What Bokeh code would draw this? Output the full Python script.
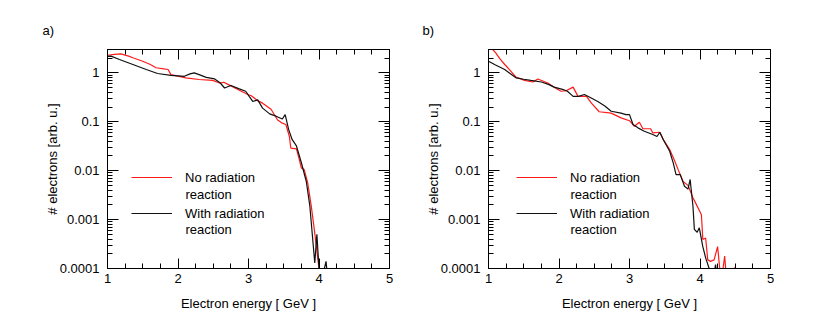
from bokeh.plotting import figure
from bokeh.models import (LinearAxis, LogAxis, FixedTicker, Range1d, Legend,
                          LegendItem, Label)
from bokeh.layouts import row
from bokeh.embed import file_html
from bokeh.resources import INLINE

# ---------------- data ----------------
# panel a) : no radiation reaction (red)
a_red_e = [1.0, 1.1, 1.19, 1.3, 1.36, 1.5, 1.6, 1.69, 1.8, 1.86, 1.9, 2.0, 2.11,
           2.3, 2.49, 2.59, 2.65, 2.73, 2.87, 2.99, 3.04, 3.13, 3.2, 3.32, 3.41,
           3.47, 3.53, 3.58, 3.6, 3.68, 3.72, 3.75, 3.79, 3.84, 3.89, 3.94, 4.0, 4.03]
a_red_v = [2.29, 2.38, 2.45, 2.2, 2.03, 1.73, 1.5, 1.27, 1.2, 1.17, 0.92, 0.86, 0.79,
           0.73, 0.70, 0.62, 0.64, 0.56, 0.44, 0.36, 0.34, 0.27, 0.24, 0.18, 0.11,
           0.095, 0.088, 0.05, 0.029, 0.028, 0.017, 0.0113, 0.0105, 0.0056, 0.0019,
           0.00053, 0.0001, 0.00005]
# panel a) : with radiation reaction (black)
a_blk_e = [1.0, 1.05, 1.17, 1.36, 1.55, 1.71, 1.9, 2.09, 2.17, 2.23, 2.3, 2.4, 2.52,
           2.6, 2.66, 2.75, 2.87, 2.96, 3.01, 3.06, 3.13, 3.2, 3.3, 3.39, 3.48, 3.52,
           3.57, 3.62, 3.68, 3.75, 3.82, 3.87, 3.94, 3.97, 4.0, 4.04, 4.1, 4.13]
a_blk_v = [2.18, 2.2, 1.87, 1.48, 1.17, 0.97, 0.89, 0.85, 0.95, 1.0, 0.92, 0.81, 0.75,
           0.62, 0.49, 0.55, 0.47, 0.42, 0.33, 0.26, 0.28, 0.19, 0.145, 0.13, 0.114,
           0.14, 0.069, 0.043, 0.032, 0.0145, 0.006, 0.0019, 0.00013, 0.0005, 0.0001,
           0.00006, 0.00014, 0.00005]
# panel b) : no radiation reaction (red)
b_red_e = [1.0, 1.06, 1.1, 1.16, 1.23, 1.3, 1.39, 1.51, 1.63, 1.7, 1.84, 1.96, 2.03,
           2.1, 2.2, 2.27, 2.39, 2.46, 2.57, 2.74, 2.88, 3.0, 3.07, 3.14, 3.19, 3.3,
           3.33, 3.43, 3.48, 3.57, 3.64, 3.69, 3.76, 3.83, 3.9, 3.93, 4.02, 4.04,
           4.08, 4.11, 4.15, 4.2, 4.25, 4.3, 4.35, 4.38, 4.45, 4.49, 4.52]
b_red_v = [3.8, 3.0, 2.6, 1.95, 1.48, 1.15, 0.82, 0.70, 0.65, 0.75, 0.62, 0.48, 0.42,
           0.43, 0.51, 0.33, 0.33, 0.24, 0.16, 0.15, 0.12, 0.105, 0.081, 0.098, 0.072,
           0.072, 0.059, 0.061, 0.043, 0.027, 0.016, 0.0105, 0.006, 0.005, 0.0028,
           0.0023, 0.00126, 0.00039, 0.00042, 0.00015, 0.00014, 0.00015, 0.00028,
           0.00005, 0.00018, 0.00005, 0.00005, 0.000105, 0.00005]
# panel b) : with radiation reaction (black)
b_blk_e = [1.0, 1.1, 1.23, 1.39, 1.5, 1.6, 1.75, 1.85, 1.93, 2.05, 2.12, 2.2, 2.28,
           2.36, 2.45, 2.55, 2.65, 2.74, 2.88, 2.95, 3.0, 3.05, 3.12, 3.21, 3.33, 3.39,
           3.43, 3.48, 3.57, 3.62, 3.66, 3.72, 3.78, 3.83, 3.86, 3.9, 3.92, 3.96, 3.99,
           4.04, 4.08, 4.13, 4.18, 4.22, 4.26]
b_blk_v = [1.73, 1.45, 1.17, 0.79, 0.74, 0.70, 0.65, 0.58, 0.51, 0.46, 0.42, 0.33, 0.33,
           0.36, 0.31, 0.26, 0.21, 0.164, 0.15, 0.14, 0.14, 0.088, 0.075, 0.064, 0.055,
           0.05, 0.061, 0.043, 0.025, 0.0144, 0.0083, 0.0083, 0.0048, 0.0042, 0.0066,
           0.0019, 0.00063, 0.00055, 0.00068, 0.00028, 0.000165, 0.0001, 0.00005,
           0.00012, 0.00005]

series_first_lines = ["No radiation", "With radiation"]
series_second_line = "reaction"
panel_tags = ["a)", "b)"]

x_major = [1, 2, 3, 4, 5]
x_minor = [1.25, 1.5, 1.75, 2.25, 2.5, 2.75, 3.25, 3.5, 3.75, 4.25, 4.5, 4.75]
y_major = [0.0001, 0.001, 0.01, 0.1, 1.0]
y_major_labels = ["0.0001", "0.001", "0.01", "0.1", "1"]
y_minor = [m * d for d in [0.0001, 0.001, 0.01, 0.1, 1.0] for m in range(2, 10)]

FONT = "Liberation Sans"
RED = "#ff1a1a"
BLACK = "#111111"
FRAME_W = 282
FRAME_H = 219


def style_axis(ax, major_in, show_labels):
    ax.major_tick_in = major_in
    ax.major_tick_out = 0
    ax.minor_tick_in = 5
    ax.minor_tick_out = 0
    ax.axis_line_color = "black"
    ax.major_tick_line_color = "black"
    ax.minor_tick_line_color = "black"
    ax.major_label_text_font = FONT
    ax.major_label_text_font_size = "13px"
    ax.major_label_text_color = "black" if show_labels else None
    ax.axis_label_text_font = FONT
    ax.axis_label_text_font_style = "normal"
    ax.axis_label_text_font_size = "13px"
    ax.axis_label_text_color = "black"


def make_panel(tag, red_e, red_v, blk_e, blk_v, left_border, legend_dx, tag_dx):
    p = figure(frame_width=FRAME_W, frame_height=FRAME_H,
               x_range=Range1d(1, 5), y_range=Range1d(0.0001, 3.0),
               y_axis_type="log", output_backend="svg", toolbar_location=None,
               min_border_left=left_border, min_border_right=20,
               min_border_top=49, min_border_bottom=50)
    p.xgrid.visible = False
    p.ygrid.visible = False
    p.outline_line_color = "black"
    p.outline_line_alpha = 1.0
    p.background_fill_color = "white"
    p.border_fill_color = "white"

    # panel tag as the plot title, shifted to the left of the frame
    p.title.text = tag
    p.title.align = "left"
    p.title.offset = tag_dx
    p.title.standoff = 24
    p.title.text_font = FONT
    p.title.text_font_size = "13px"
    p.title.text_font_style = "normal"
    p.title.text_color = "black"

    xt = FixedTicker(ticks=x_major, minor_ticks=x_minor)
    yt = FixedTicker(ticks=y_major, minor_ticks=y_minor)
    overrides = {v: s for v, s in zip(y_major, y_major_labels)}

    xa = p.xaxis[0]
    xa.ticker = xt
    xa.axis_label = "Electron energy [ GeV ]"
    style_axis(xa, 10, True)
    xa.major_label_standoff = 5
    xa.axis_label_standoff = 10

    ya = p.yaxis[0]
    ya.ticker = yt
    ya.major_label_overrides = overrides
    ya.axis_label = "# electrons [arb. u.]"
    style_axis(ya, 11, True)
    ya.major_label_standoff = 8
    ya.axis_label_standoff = -3

    top = LinearAxis(ticker=FixedTicker(ticks=x_major, minor_ticks=x_minor))
    style_axis(top, 10, False)
    top.major_label_standoff = 0
    p.add_layout(top, "above")
    right = LogAxis(ticker=FixedTicker(ticks=y_major, minor_ticks=y_minor))
    style_axis(right, 11, False)
    p.add_layout(right, "right")

    r_red = p.line(red_e, red_v, line_color=RED, line_width=1.2)
    r_blk = p.line(blk_e, blk_v, line_color=BLACK, line_width=1.2)

    legend = Legend(items=[LegendItem(label=series_first_lines[0], renderers=[r_red]),
                           LegendItem(label=series_first_lines[1], renderers=[r_blk])],
                    location=(legend_dx, 45), orientation="vertical",
                    border_line_color=None, background_fill_alpha=0,
                    padding=0, margin=0, spacing=16, glyph_width=41, glyph_height=20,
                    label_height=20, label_standoff=13, label_text_font=FONT,
                    label_text_font_size="13px", label_text_color="black")
    p.add_layout(legend)

    # second line of each legend label, in screen px from the frame's bottom-left
    text_x = legend_dx + 41 + 13
    for yy in (74, 39):
        p.add_layout(Label(x=text_x, y=yy, x_units="screen", y_units="screen",
                           text=series_second_line, text_font=FONT,
                           text_font_size="13px", text_baseline="middle",
                           text_color="black"))
    return p


p1 = make_panel(panel_tags[0], a_red_e, a_red_v, a_blk_e, a_blk_v, 107, 24, -65)
p2 = make_panel(panel_tags[1], b_red_e, b_red_v, b_blk_e, b_blk_v, 79, 28, -66)
layout = row(p1, p2)

open("out.html", "w").write(file_html(layout, INLINE))
